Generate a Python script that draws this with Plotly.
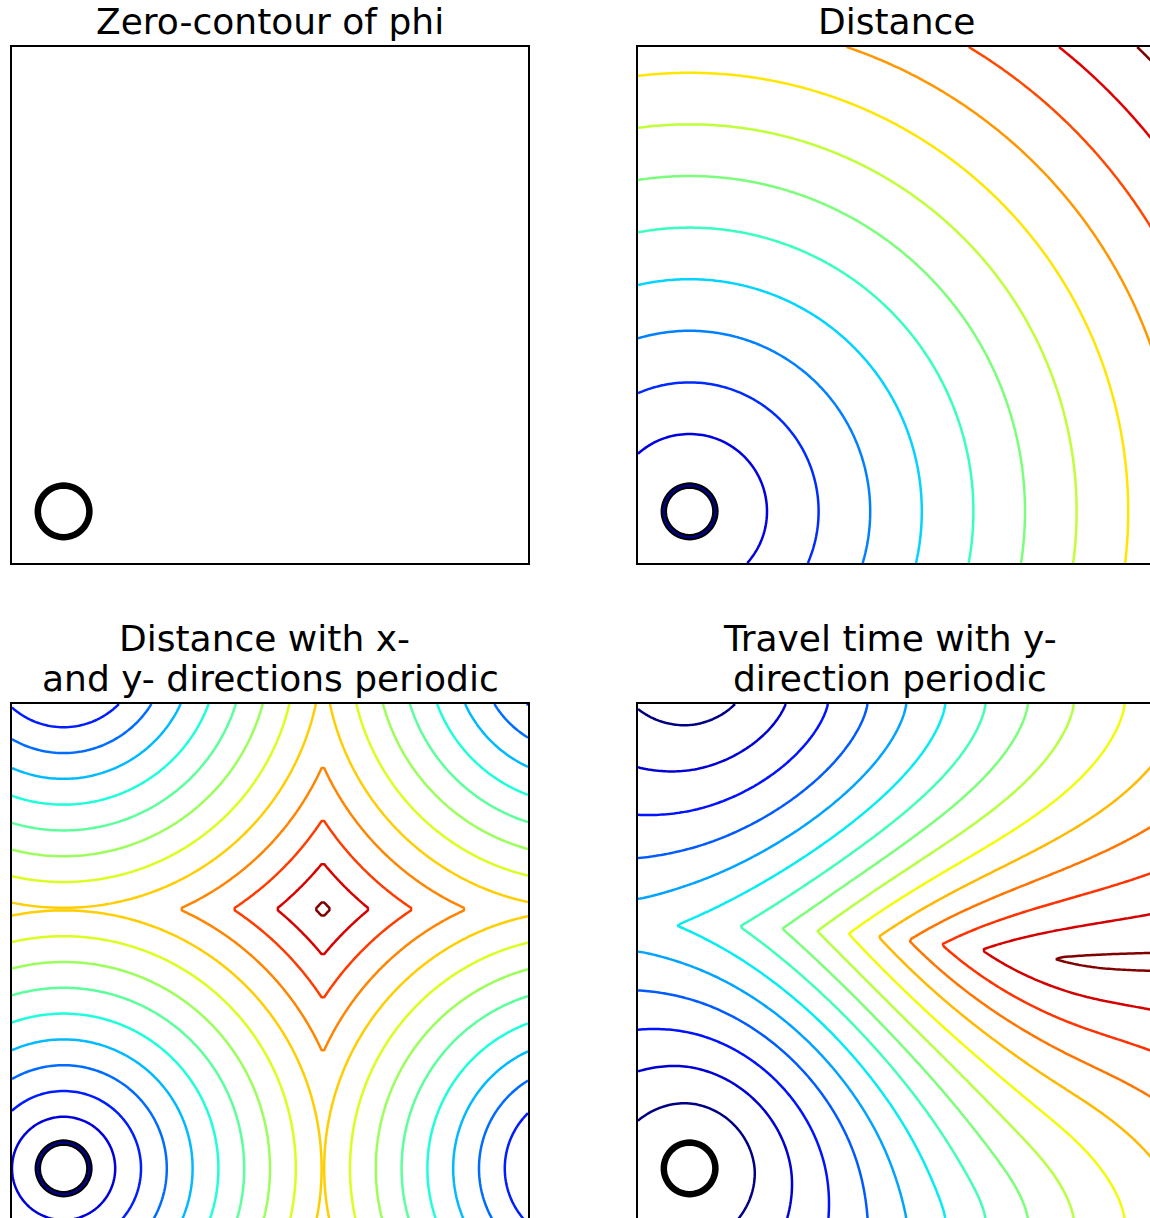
import numpy as np
import plotly.graph_objects as go

# ---------------- data / parameters ----------------
N = 201
GRID_MIN, GRID_MAX = -1.0, 1.0
CIRCLE_CENTER = [-0.8, -0.8]
CIRCLE_RADIUS = 0.1
SPEED_BASE = 1.5            # speed = SPEED_BASE * (1 + x^2 + y^2)
TITLES = [
    ["Zero-contour of phi"],
    ["Distance"],
    ["Distance with x-", "and y- directions periodic"],
    ["Travel time with y-", "direction periodic"],
]
DIST_LEVELS = [0.0, 0.2, 0.4, 0.6, 0.8, 1.0, 1.2, 1.4, 1.6, 1.8, 2.0, 2.2, 2.4]
PERIODIC_LEVELS = [0.0, 0.1, 0.2, 0.3, 0.4, 0.5, 0.6, 0.7, 0.8, 0.9, 1.0, 1.1, 1.2, 1.3]
TRAVEL_LEVELS = [0.05, 0.10, 0.15, 0.20, 0.25, 0.30, 0.35, 0.40, 0.45, 0.50,
                 0.55, 0.60, 0.65, 0.70, 0.75]

# ---------------- fields ----------------
x = np.linspace(GRID_MIN, GRID_MAX, N)
h = (GRID_MAX - GRID_MIN) / (N - 1)
X, Y = np.meshgrid(x, x)
cx, cy = CIRCLE_CENTER
r = CIRCLE_RADIUS
phi = (X - cx) ** 2 + (Y - cy) ** 2 - r ** 2
dist = np.sqrt((X - cx) ** 2 + (Y - cy) ** 2) - r

P = N * h
dper = np.full_like(X, np.inf)
for kx in (-1, 0, 1):
    for ky in (-1, 0, 1):
        dper = np.minimum(dper, np.sqrt((X - cx - kx * P) ** 2 + (Y - cy - ky * P) ** 2) - r)

speed = SPEED_BASE * (1 + X ** 2 + Y ** 2)
BIG = 1e6
T = np.full_like(X, BIG)
near = np.abs(dist) <= 1.5 * h
T[near] = np.abs(dist[near]) / speed[near]
f = h / speed
for _ in range(900):
    a = np.minimum(np.roll(T, 1, axis=0), np.roll(T, -1, axis=0))
    left = np.full_like(T, BIG); left[:, 1:] = T[:, :-1]
    right = np.full_like(T, BIG); right[:, :-1] = T[:, 1:]
    b = np.minimum(left, right)
    m = np.minimum(a, b)
    t2 = 0.5 * (a + b + np.sqrt(np.maximum(2 * f * f - (a - b) ** 2, 0)))
    t = np.where(np.abs(a - b) >= f, m + f, t2)
    T = np.minimum(T, t)

# ---------------- jet colorscale ----------------
_r = ([0, 0.35, 0.66, 0.89, 1], [0, 0, 1, 1, 0.5])
_g = ([0, 0.125, 0.375, 0.64, 0.91, 1], [0, 0, 1, 1, 0, 0])
_b = ([0, 0.11, 0.34, 0.65, 1], [0.5, 1, 1, 0, 0])
pos = sorted(set(np.round(np.linspace(0, 1, 101), 4).tolist()) | {0.125, 0.375})
JET = []
for p in pos:
    rr = np.interp(p, *_r); gg = np.interp(p, *_g); bb = np.interp(p, *_b)
    JET.append([p, "rgb(%d,%d,%d)" % (round(rr * 255), round(gg * 255), round(bb * 255))])

# ---------------- layout geometry (screen px) ----------------
W, H = 1150, 1218
PAN = 516.0
col_left = [12.0, 638.0]
row_top = [47.0, 704.0]

fig = go.Figure()


def axis_names(i):
    return ("x" if i == 0 else "x%d" % (i + 1)), ("y" if i == 0 else "y%d" % (i + 1))


def add_circle(i):
    xa, ya = axis_names(i)
    fig.add_trace(go.Contour(
        x=x, y=x, z=np.round(phi, 5), xaxis=xa, yaxis=ya,
        autocontour=False, contours=dict(start=0, end=0, size=1, coloring="none", showlabels=False),
        line=dict(color="black", width=6.5, smoothing=0), showscale=False, hoverinfo="skip"))


def add_field(i, Z, levels):
    xa, ya = axis_names(i)
    step = (levels[-1] - levels[0]) / (len(levels) - 1)
    fig.add_trace(go.Contour(
        x=x, y=x, z=np.round(Z, 5), xaxis=xa, yaxis=ya,
        autocontour=False,
        contours=dict(start=levels[0], end=levels[-1], size=step, coloring="lines", showlabels=False),
        line=dict(width=2.5, smoothing=0), colorscale=JET, showscale=False, hoverinfo="skip"))


for i in range(4):
    add_circle(i)
add_field(1, dist, DIST_LEVELS)
add_field(2, dper, PERIODIC_LEVELS)
add_field(3, T, TRAVEL_LEVELS)

layout = dict(width=W, height=H, margin=dict(l=0, r=0, t=0, b=0),
              paper_bgcolor="white", plot_bgcolor="white", showlegend=False)
annotations = []
for i in range(4):
    row, col = divmod(i, 2)
    x0 = col_left[col]
    x1 = min(x0 + PAN, W)
    y0 = row_top[row]
    y1 = min(y0 + PAN, H)
    xr = [-1, -1 + 2 * (x1 - x0) / PAN]
    yr = [1 - 2 * (y1 - y0) / PAN, 1]
    xa, ya = axis_names(i)
    xkey = "xaxis" if i == 0 else "xaxis%d" % (i + 1)
    ykey = "yaxis" if i == 0 else "yaxis%d" % (i + 1)
    common = dict(showticklabels=False, ticks="", showgrid=False, zeroline=False,
                  showline=True, linecolor="black", linewidth=2, fixedrange=True)
    layout[xkey] = dict(domain=[x0 / W, x1 / W], range=xr, anchor=ya, mirror=True, **common)
    layout[ykey] = dict(domain=[1 - y1 / H, 1 - y0 / H], range=yr, anchor=xa,
                        mirror=(x1 < W), **common)
    lines = TITLES[i]
    cxp = x0 + PAN / 2
    if len(lines) == 1:
        ys = [22]
        xs = [cxp]
    else:
        ys = [638, 678]
        xs = [cxp - 5.5, cxp] if i == 2 else [cxp - 6, cxp - 6]
    for txt, yy, xx in zip(lines, ys, xs):
        annotations.append(dict(text=txt, x=xx / W, y=1 - yy / H, xref="paper", yref="paper",
                                xanchor="center", yanchor="middle", showarrow=False,
                                font=dict(family="DejaVu Sans", size=36, color="black")))
layout["annotations"] = annotations
fig.update_layout(**layout)
fig.write_html("out.html", config={"displayModeBar": False, "staticPlot": True}, post_script=(
    "document.body.style.margin='0';"
    "document.body.style.overflow='hidden';"
    "document.documentElement.style.overflow='hidden';"))
